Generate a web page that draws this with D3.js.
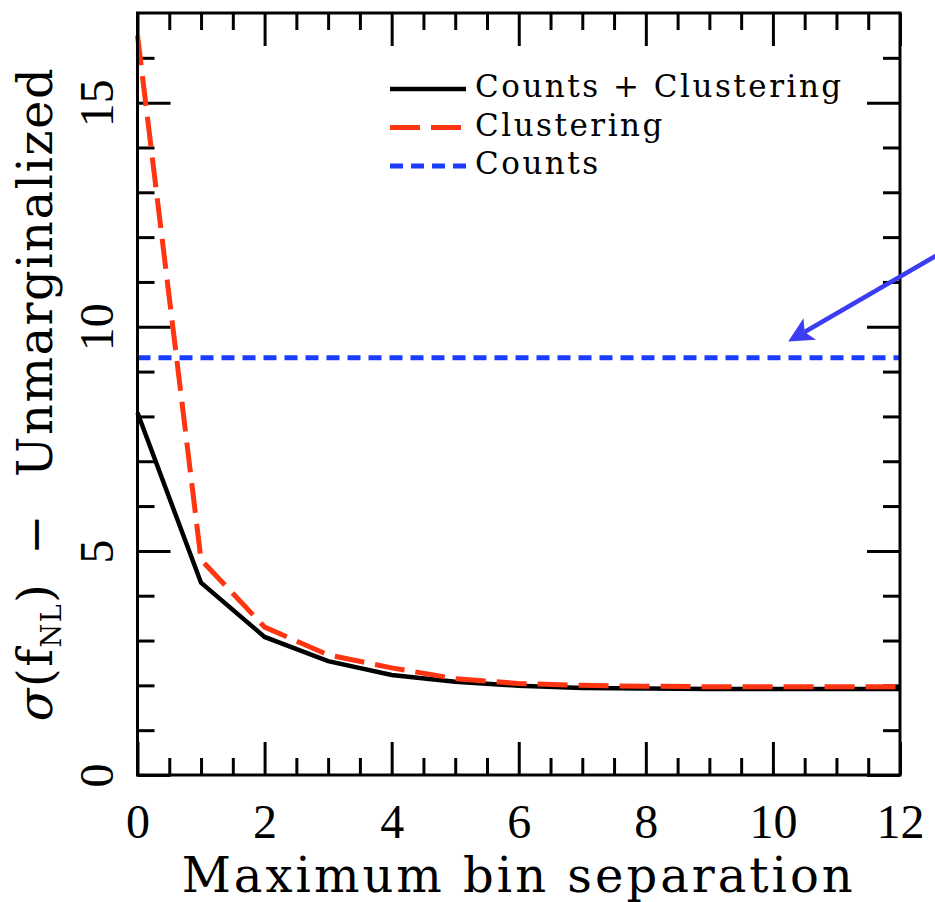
<!DOCTYPE html>
<html>
<head>
<meta charset="utf-8">
<script src="https://cdn.jsdelivr.net/npm/d3@7"></script>
<style>
  html, body { margin: 0; padding: 0; background: #fff; }
  svg { display: block; }
</style>
</head>
<body>
<svg id="chart" width="935" height="902"></svg>
<script>
// Maximum bin separation (x) and forecast sigma(f_NL), unmarginalized
const binSeparation = [0, 1, 2, 3, 4, 5, 6, 7, 8, 9, 10, 11, 12];
const countsPlusClustering = [8.08, 4.29, 3.08, 2.54, 2.23, 2.08, 1.99, 1.94, 1.93, 1.92, 1.92, 1.92, 1.92];
const clusteringOnly = [16.5, 4.8, 3.3, 2.68, 2.39, 2.15, 2.04, 2.0, 1.98, 1.97, 1.97, 1.97, 1.97];
const countsOnly = [9.31, 9.31, 9.31, 9.31, 9.31, 9.31, 9.31, 9.31, 9.31, 9.31, 9.31, 9.31, 9.31];

const xMajorTicks = [0, 2, 4, 6, 8, 10, 12];
const xMinorTicks = [0.5, 1, 1.5, 2.5, 3, 3.5, 4.5, 5, 5.5, 6.5, 7, 7.5, 8.5, 9, 9.5, 10.5, 11, 11.5];
const yMajorTicks = [0, 5, 10, 15];
const yMinorTicks = [1, 2, 3, 4, 6, 7, 8, 9, 11, 12, 13, 14, 16];

const legendItems = [
  { label: "Counts + Clustering", color: "#000000", dash: null, width: 4.5 },
  { label: "Clustering", color: "#ff3410", dash: "30,11", width: 5 },
  { label: "Counts", color: "#1a3cff", dash: "13,8", width: 5 }
];

// arrow annotation pointing at the counts-only level (tail, tip in data units)
const arrowTail = [12.95, 11.9];
const arrowTip = [10.24, 9.67];

const svg = d3.select("#chart");
const W = 935, H = 902;
const plot = { left: 137.5, right: 900, top: 13, bottom: 775 };

const x = d3.scaleLinear().domain([0, 12]).range([plot.left, plot.right]);
const y = d3.scaleLinear().domain([0, 17]).range([plot.bottom, plot.top]);

svg.append("rect").attr("width", W).attr("height", H).attr("fill", "#fff");

const MAJ = 33, MIN = 17, TW = 3;

function styleAxis(g) {
  g.select(".domain").remove();
  g.selectAll(".tick line").attr("stroke", "#000").attr("stroke-width", TW);
}

// bottom axis: major (labelled) + minor
const gBottom = svg.append("g").attr("transform", `translate(0,${plot.bottom})`)
  .call(d3.axisBottom(x).tickValues(xMajorTicks).tickSize(-MAJ).tickSizeOuter(0).tickFormat(d3.format("d")))
  .call(styleAxis);
gBottom.selectAll(".tick text")
  .attr("y", 63).attr("dy", 0)
  .attr("font-family", "'Liberation Serif', serif").attr("font-size", 48).attr("fill", "#000");
svg.append("g").attr("transform", `translate(0,${plot.bottom})`)
  .call(d3.axisBottom(x).tickValues(xMinorTicks).tickSize(-MIN).tickSizeOuter(0).tickFormat(""))
  .call(styleAxis);

// top axis (mirrored ticks)
svg.append("g").attr("transform", `translate(0,${plot.top})`)
  .call(d3.axisTop(x).tickValues(xMajorTicks).tickSize(-MAJ).tickSizeOuter(0).tickFormat(""))
  .call(styleAxis);
svg.append("g").attr("transform", `translate(0,${plot.top})`)
  .call(d3.axisTop(x).tickValues(xMinorTicks).tickSize(-MIN).tickSizeOuter(0).tickFormat(""))
  .call(styleAxis);

// left axis with rotated labels
const gLeft = svg.append("g").attr("transform", `translate(${plot.left},0)`)
  .call(d3.axisLeft(y).tickValues(yMajorTicks).tickSize(-MAJ).tickSizeOuter(0).tickFormat(d3.format("d")))
  .call(styleAxis);
gLeft.selectAll(".tick text")
  .attr("x", 0).attr("y", 0).attr("dy", 0)
  .attr("text-anchor", "middle")
  .attr("transform", "translate(-25,0) rotate(-90)")
  .attr("font-family", "'Liberation Serif', serif").attr("font-size", 48).attr("fill", "#000");
svg.append("g").attr("transform", `translate(${plot.left},0)`)
  .call(d3.axisLeft(y).tickValues(yMinorTicks).tickSize(-MIN).tickSizeOuter(0).tickFormat(""))
  .call(styleAxis);

// right axis (mirrored ticks)
svg.append("g").attr("transform", `translate(${plot.right},0)`)
  .call(d3.axisRight(y).tickValues(yMajorTicks).tickSize(-MAJ).tickSizeOuter(0).tickFormat(""))
  .call(styleAxis);
svg.append("g").attr("transform", `translate(${plot.right},0)`)
  .call(d3.axisRight(y).tickValues(yMinorTicks).tickSize(-MIN).tickSizeOuter(0).tickFormat(""))
  .call(styleAxis);

// series lines
const line = d3.line().x(d => x(d[0])).y(d => y(d[1]));
const zip = vals => binSeparation.map((b, i) => [b, vals[i]]);

svg.append("path").datum(zip(countsOnly)).attr("d", line)
  .attr("fill", "none").attr("stroke", legendItems[2].color)
  .attr("stroke-width", legendItems[2].width).attr("stroke-dasharray", legendItems[2].dash);

svg.append("path").datum(zip(countsPlusClustering)).attr("d", line)
  .attr("fill", "none").attr("stroke", legendItems[0].color)
  .attr("stroke-width", legendItems[0].width).attr("stroke-linejoin", "miter");

svg.append("path").datum(zip(clusteringOnly)).attr("d", line)
  .attr("fill", "none").attr("stroke", legendItems[1].color)
  .attr("stroke-width", legendItems[1].width).attr("stroke-dasharray", legendItems[1].dash);

// frame
svg.append("rect")
  .attr("x", plot.left).attr("y", plot.top)
  .attr("width", plot.right - plot.left).attr("height", plot.bottom - plot.top)
  .attr("fill", "none").attr("stroke", "#000").attr("stroke-width", TW);

// legend
const legend = svg.append("g");
legendItems.forEach((it, i) => {
  const ly = 89 + i * 38.5;
  legend.append("line")
    .attr("x1", 390).attr("x2", 466).attr("y1", ly).attr("y2", ly)
    .attr("stroke", it.color).attr("stroke-width", it.width)
    .attr("stroke-dasharray", it.dash);
  legend.append("text")
    .attr("x", 475).attr("y", ly + 8)
    .attr("font-family", "'DejaVu Serif', serif").attr("font-size", 31)
    .attr("letter-spacing", 2.5).attr("fill", "#000")
    .text(it.label);
});

// x-axis title
svg.append("text")
  .attr("x", (plot.left + plot.right) / 2).attr("y", 892)
  .attr("text-anchor", "middle")
  .attr("font-family", "'DejaVu Serif', serif").attr("font-size", 48)
  .attr("letter-spacing", 3).attr("fill", "#000")
  .text("Maximum bin separation");

// y-axis title
const yt = svg.append("text")
  .attr("transform", `translate(52,${(plot.top + plot.bottom) / 2}) rotate(-90)`)
  .attr("text-anchor", "middle")
  .attr("letter-spacing", 1.5)
  .attr("font-family", "'DejaVu Serif', serif").attr("font-size", 48).attr("fill", "#000");
yt.append("tspan").attr("font-style", "italic").text("σ");
yt.append("tspan").text("(f");
yt.append("tspan").attr("font-size", 27).attr("dy", 9).text("NL");
yt.append("tspan").attr("dy", -9).text(")");
yt.append("tspan").attr("dx", 28).text("−");
yt.append("tspan").attr("dx", 36).text("Unmarginalized");

// arrow annotation
const arrowColor = "#3c3cf2";
const tx = x(arrowTip[0]), ty = y(arrowTip[1]);
const sx = x(arrowTail[0]), sy = y(arrowTail[1]);
const len = Math.hypot(sx - tx, sy - ty);
const ux = (sx - tx) / len, uy = (sy - ty) / len;
const px = -uy, py = ux;
const headLen = 25, headHalf = 12.5, notch = 19;
svg.append("line")
  .attr("x1", sx).attr("y1", sy)
  .attr("x2", tx + ux * notch).attr("y2", ty + uy * notch)
  .attr("stroke", arrowColor).attr("stroke-width", 4.5);
svg.append("path")
  .attr("d", d3.line()([
    [tx, ty],
    [tx + ux * headLen + px * headHalf, ty + uy * headLen + py * headHalf],
    [tx + ux * notch, ty + uy * notch],
    [tx + ux * headLen - px * headHalf, ty + uy * headLen - py * headHalf]
  ]) + "Z")
  .attr("fill", arrowColor);
</script>
</body>
</html>
